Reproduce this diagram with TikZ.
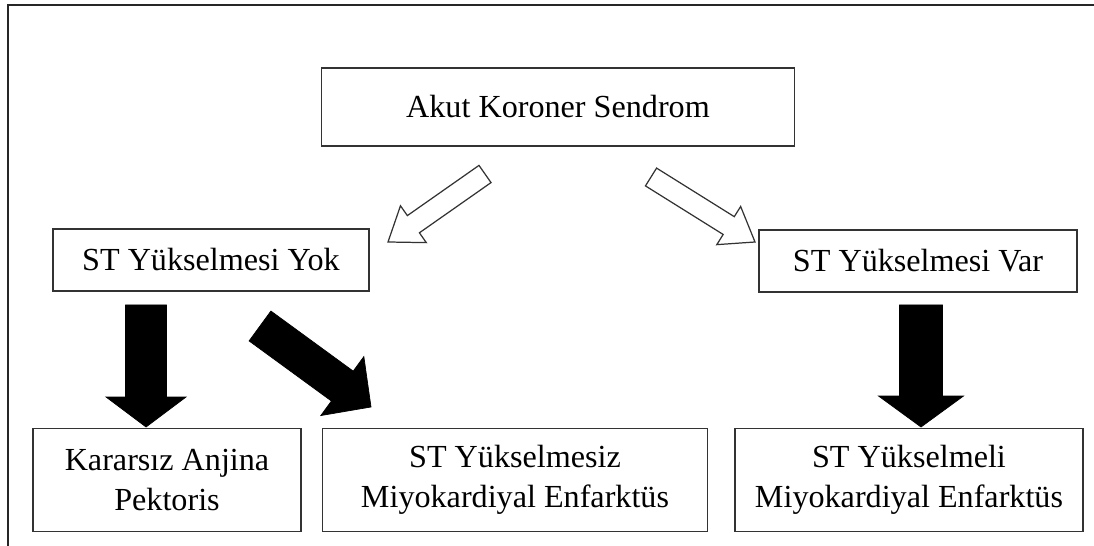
\documentclass[tikz,border=0pt]{standalone}
\usepackage{fontspec}
\setmainfont{Liberation Serif}
\usepackage{tikz}
\usetikzlibrary{calc}

\tikzset{
  box/.style={draw=black!80, line width=0.8pt, inner sep=0pt, align=center,
    font=\fontsize{18.3}{22.7}\selectfont},
  openarrow/.style={draw=black!80, line width=0.7pt, fill=white},
  fullarrow/.style={draw=black, line width=0.4pt, fill=black}
}

% block arrow: style, from, to, half shaft, half head, head length
\newcommand{\blockarrow}[6]{%
  \coordinate (ba-h) at ($(#3)!#6!(#2)$);
  \draw[#1] ($(#2)!#4!90:(#3)$) -- ($(ba-h)!#4!90:(#3)$) -- ($(ba-h)!#5!90:(#3)$) -- (#3)
    -- ($(ba-h)!#5!-90:(#3)$) -- ($(ba-h)!#4!-90:(#3)$) -- ($(#2)!#4!-90:(#3)$) -- cycle;
}

\begin{document}
\begin{tikzpicture}[x=0.02cm, y=-0.02cm]
\useasboundingbox (0,0) rectangle (1094,546);
\draw[line width=1.2pt, black!85] (8,546) -- (8,5) -- (1094,5);

\node[box, minimum width=9.46cm, minimum height=1.56cm] (akut) at (558,107) {Akut Koroner Sendrom};
\node[box, minimum width=6.32cm, minimum height=1.24cm] (yok) at (211,260) {ST Yükselmesi Yok};
\node[box, minimum width=6.36cm, minimum height=1.24cm] (var) at (918,261) {ST Yükselmesi Var};
\node[box, minimum width=5.36cm, minimum height=2.06cm] (kap) at (167,480) {Kararsız Anjina\\Pektoris};
\node[box, minimum width=7.7cm, minimum height=2.06cm] (nstemi) at (515,480) {ST Yükselmesiz\\Miyokardiyal Enfarktüs};
\node[box, minimum width=6.96cm, minimum height=2.06cm] (stemi) at (909,480) {ST Yükselmeli\\Miyokardiyal Enfarktüs};

% arrow ends
\coordinate (akutL) at (485,174);
\coordinate (yokT) at (388,242);
\coordinate (akutR) at (651,177);
\coordinate (varT) at (755,242);
\coordinate (yokB) at (146,305);
\coordinate (kapT) at (146,427);
\coordinate (yokD) at (260,326);
\coordinate (nstemiT) at (371,407);
\coordinate (varB) at (921,305);
\coordinate (stemiT) at (921,427);

\blockarrow{openarrow}{akutL}{yokT}{0.21cm}{0.45cm}{0.62cm}
\blockarrow{openarrow}{akutR}{varT}{0.21cm}{0.45cm}{0.62cm}
\blockarrow{fullarrow}{yokB}{kapT}{0.41cm}{0.8cm}{0.6cm}
\blockarrow{fullarrow}{yokD}{nstemiT}{0.37cm}{0.73cm}{0.71cm}
\blockarrow{fullarrow}{varB}{stemiT}{0.43cm}{0.85cm}{0.62cm}
\end{tikzpicture}
\end{document}
